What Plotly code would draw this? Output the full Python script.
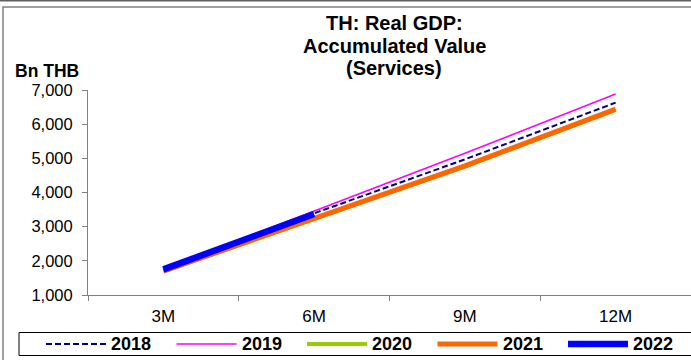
import plotly.graph_objects as go

periods = ["3M", "6M", "9M", "12M"]
series_names = ["2018", "2019", "2020", "2021", "2022"]
y2018 = [1720, 3390, 4970, 6630]
y2019 = [1760, 3460, 5150, 6880]
y2020 = [1690, 3220, 4760, 6420]
y2021 = [1700, 3240, 4780, 6440]
y2022 = [1750, 3370]
y_ticks = [1000, 2000, 3000, 4000, 5000, 6000, 7000]
title_lines = ["TH: Real GDP:", "Accumulated Value", "(Services)"]
y_title = "Bn THB"

values = [y2018, y2019, y2020, y2021, y2022]
colors = ["#000080", "#FF00FF", "#99CC00", "#FF6600", "#0000FF"]
widths = [2, 1.6, 4, 5, 6.5]
dashes = ["6px,3px", "solid", "solid", "solid", "solid"]

FONT = "Arial, Liberation Sans, sans-serif"
W, H = 691, 360
L, R, T, B = 88, 691, 90, 295  # plot area in pixels


def px(xp):
    return (xp - L) / (R - L)


def py(yp):
    return (B - yp) / (B - T)


fig = go.Figure()
for name, vals, c, w, d in zip(series_names, values, colors, widths, dashes):
    fig.add_trace(go.Scatter(
        x=periods[:len(vals)], y=vals, name=name, mode="lines",
        line=dict(color=c, width=w, dash=d), showlegend=False,
    ))

annotations = []
for i, (line, yc) in enumerate(zip(title_lines, [23, 45.5, 68])):
    annotations.append(dict(
        text=line, xref="paper", yref="paper", x=px(394), y=py(yc),
        xanchor="center", yanchor="middle", showarrow=False,
        font=dict(family=FONT, size=20, color="black", weight="bold")))
annotations.append(dict(
    text=y_title, xref="paper", yref="paper", x=px(13), y=py(71.5),
    xanchor="left", yanchor="middle", showarrow=False,
    font=dict(family=FONT, size=17.5, color="black", weight="bold")))

shapes = [
    dict(type="line", xref="paper", yref="paper",
         x0=px(0), x1=px(700), y0=py(0.7), y1=py(0.7),
         line=dict(color="#606060", width=1.5)),
    dict(type="rect", xref="paper", yref="paper",
         x0=px(3), x1=px(700), y0=py(370), y1=py(7),
         line=dict(color="#808080", width=1.5), fillcolor="rgba(0,0,0,0)",
         layer="below"),
    dict(type="rect", xref="paper", yref="paper",
         x0=px(19), x1=px(700), y0=py(355.5), y1=py(332.5),
         line=dict(color="black", width=1), fillcolor="white",
         layer="below"),
]

# legend (drawn manually to match the long sample lines)
step = 130.5
for i, (name, c, w, d) in enumerate(zip(series_names, colors, widths, dashes)):
    x0 = 46 + step * i
    shapes.append(dict(type="line", xref="paper", yref="paper",
                       x0=px(x0), x1=px(x0 + 60), y0=py(344), y1=py(344),
                       line=dict(color=c, width=w, dash=d)))
    annotations.append(dict(
        text=name, xref="paper", yref="paper", x=px(x0 + 63), y=py(344),
        xanchor="left", yanchor="middle", showarrow=False,
        font=dict(family=FONT, size=18, color="black", weight="bold")))

fig.update_layout(
    width=W, height=H,
    margin=dict(l=L, r=W - R, t=T, b=H - B, autoexpand=False),
    paper_bgcolor="white", plot_bgcolor="white",
    font=dict(family=FONT, size=17, color="black"),
    showlegend=False,
    xaxis=dict(
        type="category", categoryorder="array", categoryarray=periods,
        range=[-0.5, 3.5], showline=True, linecolor="#808080", linewidth=1,
        ticks="outside", tickson="boundaries", ticklen=5, tickcolor="#808080",
        showgrid=False, zeroline=False, fixedrange=True, automargin=False,
        ticklabelstandoff=6,
        tickfont=dict(size=17),
    ),
    yaxis=dict(
        range=[1000, 7000], tickvals=y_ticks, tickformat=",",
        showline=True, linecolor="#808080", linewidth=1,
        ticks="outside", ticklen=5, tickcolor="#808080",
        showgrid=False, zeroline=False, fixedrange=True, automargin=False,
        ticklabelstandoff=6,
        tickfont=dict(size=16.5),
    ),
    annotations=annotations,
    shapes=shapes,
)

fig.write_html("out.html", config={"displayModeBar": False},
               post_script="document.body.style.margin='0px';")
